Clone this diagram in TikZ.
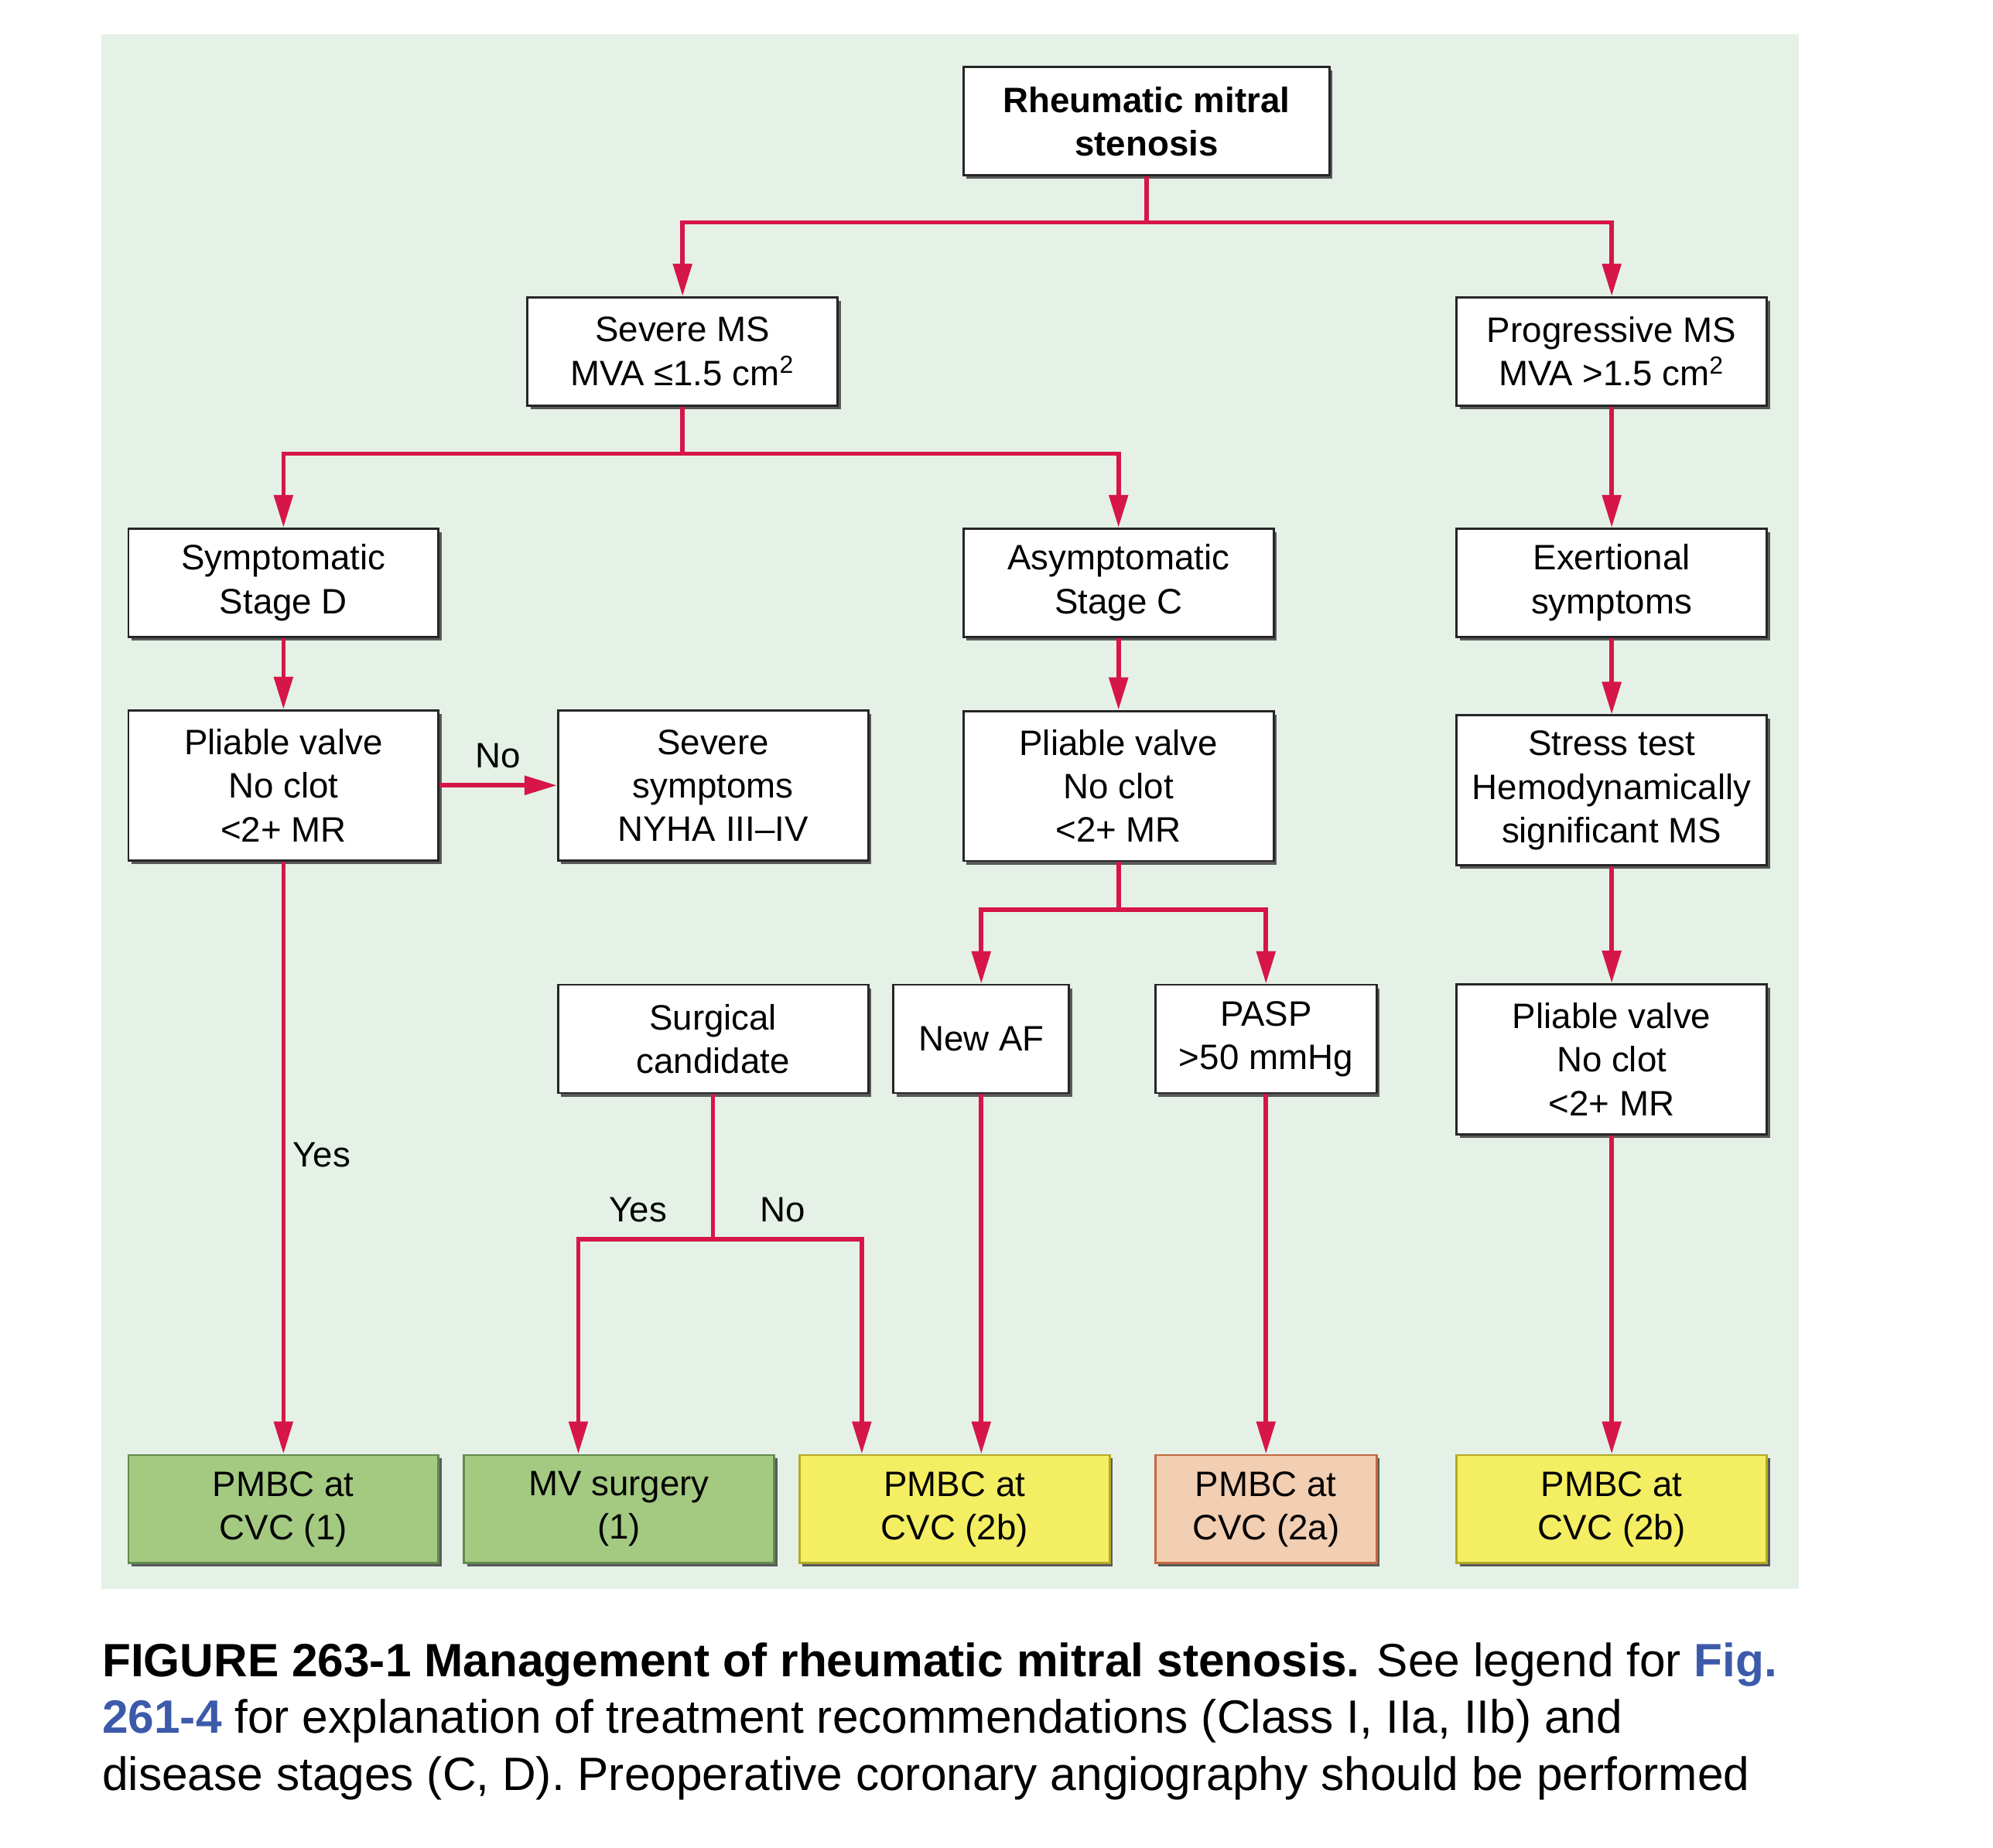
\documentclass[tikz,border=0pt]{standalone}
\usepackage{fontspec}
\setmainfont{Liberation Sans}
\definecolor{msbg}{RGB}{229,241,231}
\definecolor{msred}{RGB}{214,22,72}
\definecolor{msgreen}{RGB}{164,202,130}
\definecolor{msgreenline}{RGB}{100,138,80}
\definecolor{msyellow}{RGB}{244,238,98}
\definecolor{msyellowline}{RGB}{180,170,40}
\definecolor{mspeach}{RGB}{242,206,178}
\definecolor{mspeachline}{RGB}{196,104,64}
\definecolor{msblue}{RGB}{60,90,170}
\usetikzlibrary{arrows.meta,positioning,shadows}

\begin{document}
\begin{tikzpicture}[x=0.01643cm, y=-0.01643cm,
    box/.style={rectangle, draw=black!85, line width=0.8pt, fill=white, minimum width=4.01cm,
      minimum height=1.4cm, inner sep=1pt, align=center, font=\fontsize{13}{16}\selectfont,
      drop shadow={shadow xshift=0.04cm, shadow yshift=-0.045cm, fill=black!65, opacity=1}},
    tall/.style={minimum height=1.94cm},
    res/.style={box, fill=#1, draw=#1line},
    arr/.style={-{Triangle[length=0.42cm, width=0.24cm]}, line width=1.6pt, msred},
    lbl/.style={font=\fontsize{13}{16}\selectfont, inner sep=0pt}
  ]
    \fill[white] (0,0) rectangle (1568,1454);
    \useasboundingbox (0,0) rectangle (1568,1454);
    \fill[msbg] (80,27) rectangle (1415,1250);

    % top levels
    \node[box, minimum width=4.73cm, font=\fontsize{13}{16}\selectfont\bfseries] (rms) at (902,95.5) {Rheumatic mitral\\stenosis};
    \node[box] (sev)  at (537,276.5)  {Severe MS\\MVA ≤1.5 cm\textsuperscript{2}};
    \node[box] (prog) at (1268,276.5) {Progressive MS\\MVA >1.5 cm\textsuperscript{2}};

    \node[box] (symd)  at (223,458.5)  {Symptomatic\\Stage D};
    \node[box] (asymc) at (880,458.5)  {Asymptomatic\\Stage C};
    \node[box] (exert) at (1268,458.5) {Exertional\\symptoms};

    \node[box, tall] (pli1)   at (223,618)   {Pliable valve\\No clot\\<2+ MR};
    \node[box, tall] (sevsym) at (561,618)   {Severe\\symptoms\\NYHA III–IV};
    \node[box, tall] (pli2)   at (880,618.5) {Pliable valve\\No clot\\<2+ MR};
    \node[box, tall] (stress) at (1268,622)  {Stress test\\Hemodynamically\\significant MS};

    \node[box] (surg) at (561,817.5) {Surgical\\candidate};
    \node[box, minimum width=2.27cm] (newaf) at (772,817.5) {New AF};
    \node[box, minimum width=2.86cm] (pasp)  at (996,817.5) {PASP\\>50 mmHg};
    \node[box, tall] (pli3) at (1268,833.5) {Pliable valve\\No clot\\<2+ MR};

    % outcomes
    \node[res=msgreen]  (pmbca) at (223,1187.5)  {PMBC at\\CVC (1)};
    \node[res=msgreen]  (mvs)   at (487,1187.5)  {MV surgery\\(1)};
    \node[res=msyellow] (pmbcb) at (751,1187.5)  {PMBC at\\CVC (2b)};
    \node[res=mspeach, minimum width=2.86cm] (pmbcc) at (996,1187.5) {PMBC at\\CVC (2a)};
    \node[res=msyellow] (pmbcd) at (1268,1187.5) {PMBC at\\CVC (2b)};

    % junctions
    \coordinate (j1) at (902,175);
    \coordinate (j2) at (537,357);
    \coordinate (j3) at (880,716);
    \coordinate (j4) at (561,975);

    \draw[arr] (rms) -- (j1) -| (sev);
    \draw[arr] (rms) -- (j1) -| (prog);
    \draw[arr] (sev) -- (j2) -| (symd);
    \draw[arr] (sev) -- (j2) -| (asymc);
    \draw[arr] (prog)   -- (exert);
    \draw[arr] (exert)  -- (stress);
    \draw[arr] (stress) -- (pli3);
    \draw[arr] (pli3)   -- (pmbcd);

    \draw[arr] (symd) -- (pli1);
    \draw[arr] (pli1) -- (sevsym);
    \draw[arr] (pli1) -- (pmbca);
    \node[lbl] (lno1)  at (392,595) {No};
    \node[lbl] (lyes1) at (253,909) {Yes};

    \draw[arr] (asymc) -- (pli2);
    \draw[arr] (pli2) -- (j3) -| (newaf);
    \draw[arr] (pli2) -- (j3) -| (pasp);
    \draw[arr] (newaf.south) -- (newaf.south |- pmbcb.north);
    \draw[arr] (pasp) -- (pmbcc);

    \draw[arr] (surg) -- (j4) -| ([xshift=-32*0.01643cm]mvs.north);
    \draw[arr] (surg) -- (j4) -| ([xshift=-73*0.01643cm]pmbcb.north);
    \node[lbl] (lyes2) at (502,952) {Yes};
    \node[lbl] (lno2)  at (616,952) {No};

    % caption
    \node[anchor=north west, inner sep=0pt, align=left, font=\fontsize{17.2}{21}\selectfont] (cap) at (80,1292)
      {\textbf{FIGURE 263-1 Management of rheumatic mitral stenosis.} See legend for \textcolor{msblue}{\textbf{Fig.}}\\
       \textcolor{msblue}{\textbf{261-4}} for explanation of treatment recommendations (Class I, IIa, IIb) and\\
       disease stages (C, D). Preoperative coronary angiography should be performed};
\end{tikzpicture}
\end{document}
